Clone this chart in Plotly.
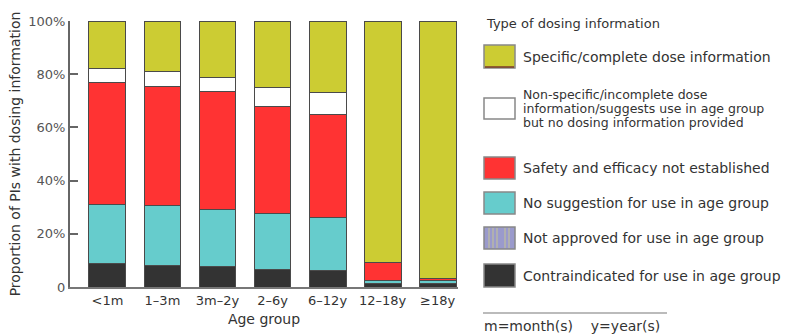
import plotly.graph_objects as go

# Age groups and share (%) of product information by type of dosing information
age_groups = ["<1m", "1–3m", "3m–2y", "2–6y", "6–12y", "12–18y", "≥18y"]
contraindicated = [8.9, 8.2, 7.6, 6.6, 6.1, 1.2, 1.2]
not_approved = [0, 0, 0, 0, 0, 0, 0]
no_suggestion = [22.3, 22.4, 21.6, 21.2, 20.2, 1.4, 1.3]
not_established = [45.8, 44.6, 44.2, 40.2, 38.5, 6.7, 0.6]
non_specific = [5.2, 5.7, 5.5, 6.9, 8.5, 0, 0]
specific = [17.8, 19.1, 21.1, 25.1, 26.7, 90.7, 96.9]

y_tickvals = [0, 20, 40, 60, 80, 100]
y_ticktext = ["0", "20%", "40%", "60%", "80%", "100%"]

FONT = "DejaVu Sans"
TXT = "#333333"
W, H = 803, 334
L, R, T, B = 70, 345, 21, 47
PW, PH = W - L - R, H - T - B

series = [
    ("Contraindicated for use in age group", contraindicated, "#333333"),
    ("Not approved for use in age group", not_approved, "#9a9acc"),
    ("No suggestion for use in age group", no_suggestion, "#66cccc"),
    ("Safety and efficacy not established", not_established, "#ff3333"),
    ("Non-specific/incomplete dose information", non_specific, "#ffffff"),
    ("Specific/complete dose information", specific, "#cccc33"),
]

fig = go.Figure()
for name, vals, col in series:
    fig.add_trace(go.Bar(
        x=age_groups, y=vals, name=name, width=0.67,
        marker=dict(color=col, line=dict(color="#4a4a4a", width=1)),
        showlegend=False,
    ))


def px(x):
    return (x - L) / PW


def py(y):
    return (H - B - y) / PH


shapes = []
annotations = []

# Legend title
annotations.append(dict(x=px(484), y=py(23), xref="paper", yref="paper",
                        text="Type of dosing information", showarrow=False,
                        xanchor="left", yanchor="middle",
                        font=dict(family=FONT, size=13, color=TXT)))

legend_rows = [
    ("#cccc33", 45, 68, ["Specific/complete dose information"]),
    ("#ffffff", 98, 119, ["Non-specific/incomplete dose",
                          "information/suggests use in age group",
                          "but no dosing information provided"]),
    ("#ff3333", 157, 179, ["Safety and efficacy not established"]),
    ("#66cccc", 192, 214, ["No suggestion for use in age group"]),
    ("#9a9acc", 227, 249, ["Not approved for use in age group"]),
    ("#333333", 264, 287, ["Contraindicated for use in age group"]),
]
sx0, sx1 = 484, 515
for col, y0, y1, lines in legend_rows:
    shapes.append(dict(type="rect", xref="paper", yref="paper",
                       x0=px(sx0), x1=px(sx1), y0=py(y1), y1=py(y0),
                       fillcolor=col, line=dict(color="#888888", width=1.5)))
    if col == "#9a9acc":
        for sx in [489, 493, 497, 505, 509]:
            shapes.append(dict(type="line", xref="paper", yref="paper",
                               x0=px(sx), x1=px(sx), y0=py(y1 - 1), y1=py(y0 + 1),
                               line=dict(color="#b0b0b0", width=2)))
    if col == "#cccc33":
        shapes.append(dict(type="line", xref="paper", yref="paper",
                           x0=px(sx0 + 1), x1=px(sx1 - 1), y0=py(y1 - 1), y1=py(y1 - 1),
                           line=dict(color="#7a3a2a", width=1.5)))
    mid = (y0 + y1) / 2
    n = len(lines)
    size = 14 if n == 1 else 12.5
    for i, line in enumerate(lines):
        ly = mid + (i - (n - 1) / 2) * 14
        annotations.append(dict(x=px(521), y=py(ly), xref="paper", yref="paper",
                                text=line, showarrow=False,
                                xanchor="left", yanchor="middle",
                                font=dict(family=FONT, size=size, color=TXT)))

# Abbreviation note
shapes.append(dict(type="line", xref="paper", yref="paper",
                   x0=px(483), x1=px(667), y0=py(313), y1=py(313),
                   line=dict(color="#bbbbbb", width=2)))
annotations.append(dict(x=px(482), y=py(326), xref="paper", yref="paper",
                        text="m=month(s)    y=year(s)", showarrow=False,
                        xanchor="left", yanchor="middle",
                        font=dict(family=FONT, size=14, color=TXT)))

fig.update_layout(
    barmode="stack",
    width=W, height=H,
    margin=dict(l=L, r=R, t=T, b=B, pad=0, autoexpand=False),
    paper_bgcolor="white", plot_bgcolor="white",
    font=dict(family=FONT, size=12, color=TXT),
    shapes=shapes, annotations=annotations,
    xaxis=dict(
        range=[-0.68, 6.37], showgrid=False, zeroline=False, automargin=False,
        showline=True, linecolor="#777777", linewidth=2,
        ticks="", tickfont=dict(family=FONT, size=13, color=TXT),
        title=dict(text="Age group", standoff=8,
                   font=dict(family=FONT, size=14, color=TXT)),
    ),
    yaxis=dict(
        range=[0, 100], tickvals=y_tickvals, ticktext=y_ticktext, automargin=False,
        showgrid=False, zeroline=False,
        showline=True, linecolor="#666666", linewidth=2,
        ticks="inside", ticklen=8, tickwidth=2, tickcolor="#666666",
        tickfont=dict(family=FONT, size=13, color="#555555"),
        title=dict(text="Proportion of PIs with dosing information", standoff=4,
                   font=dict(family=FONT, size=14, color=TXT)),
    ),
)

fig.write_html("out.html")
